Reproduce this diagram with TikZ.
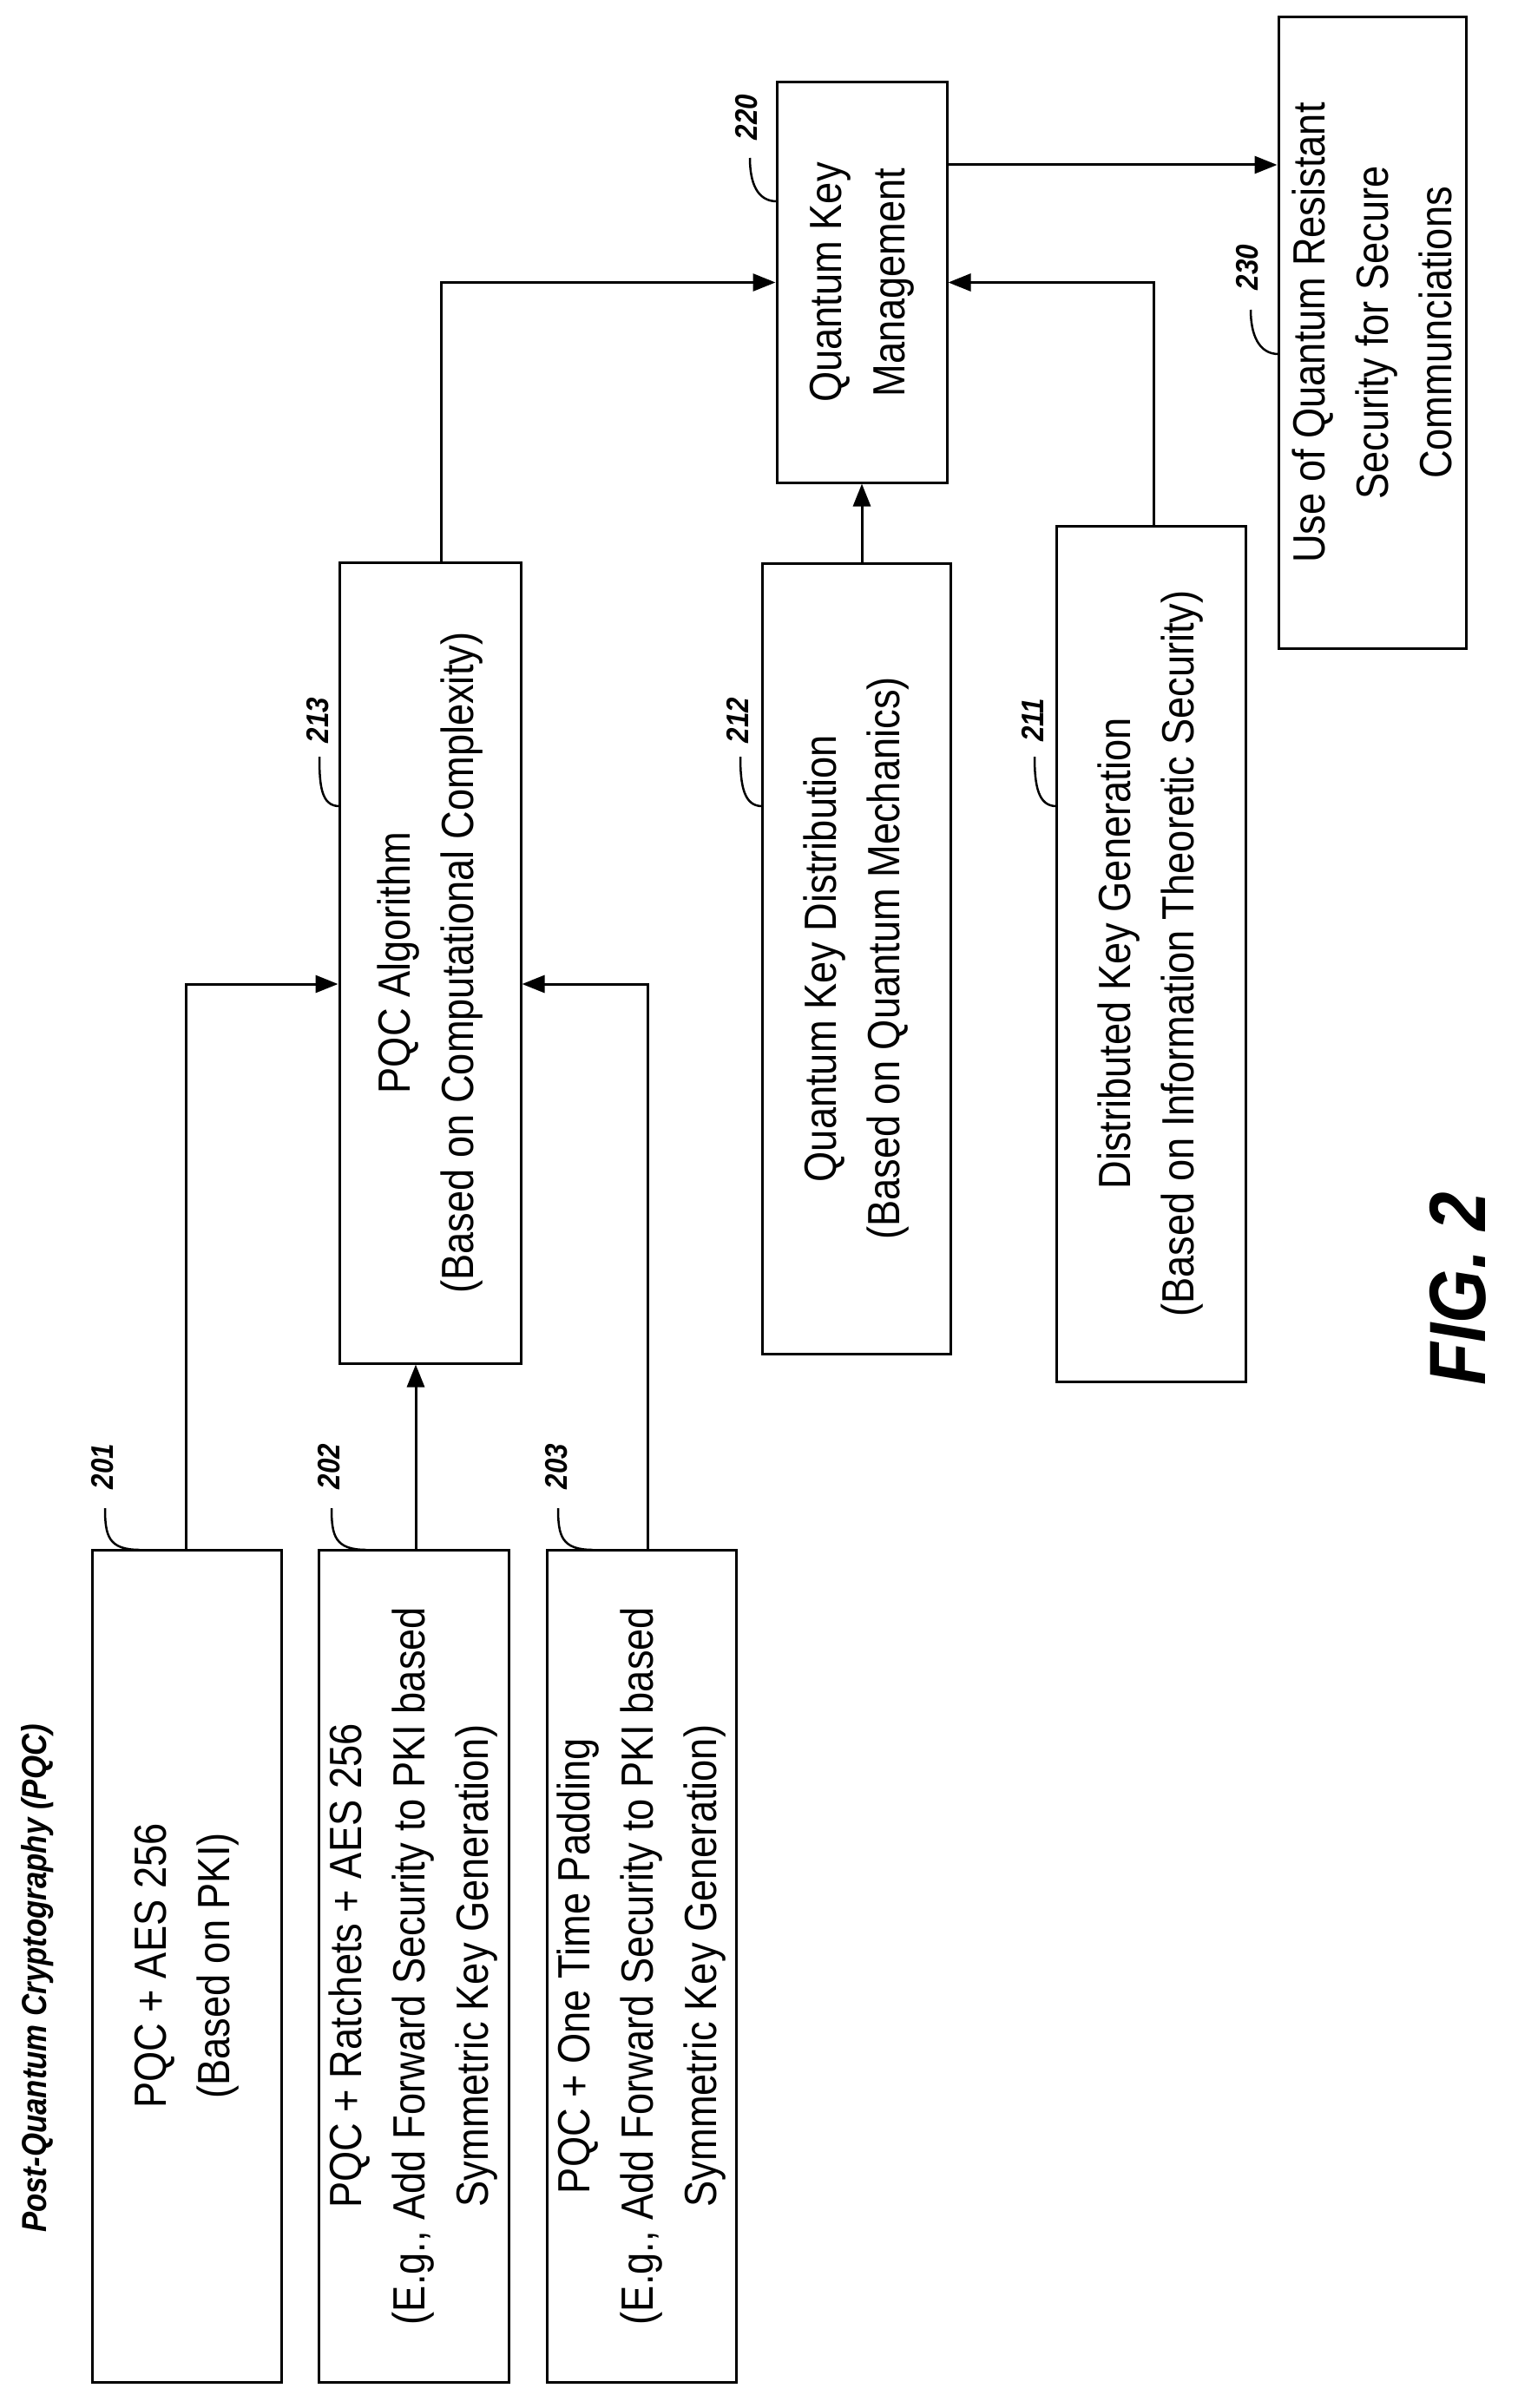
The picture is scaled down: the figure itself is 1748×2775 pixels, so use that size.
\documentclass[tikz,border=0pt]{standalone}
\usepackage{fontspec}
\setmainfont{Liberation Sans}[FakeStretch=0.87]
\usetikzlibrary{arrows.meta}
\begin{document}
\begin{tikzpicture}[x=1pt,y=-1pt,
  box/.style={draw,line width=3pt,rectangle,inner sep=0pt},
  txt/.style={rotate=90,align=center,font=\fontsize{52}{73}\selectfont,inner sep=0pt},
  lbl/.style={rotate=90,font=\fontsize{36}{40}\selectfont\bfseries\itshape,inner sep=0pt},
  arr/.style={line width=3pt,-{Triangle[length=26pt,width=20pt]}},
  ld/.style={line width=2.5pt}]
\useasboundingbox (0,0) rectangle (1748,2775);
\node[box,minimum width=218pt,minimum height=959pt] (b201) at (215,2265.5) {};
\node[box,minimum width=219pt,minimum height=959pt] (b202) at (476.5,2265.5) {};
\node[box,minimum width=218pt,minimum height=959pt] (b203) at (739,2265.5) {};
\node[box,minimum width=209pt,minimum height=923pt] (pqc) at (495.5,1109.5) {};
\node[box,minimum width=217pt,minimum height=911pt] (qkd) at (986.5,1104.5) {};
\node[box,minimum width=218pt,minimum height=986pt] (dkg) at (1326,1099) {};
\node[box,minimum width=196pt,minimum height=461pt] (qkm) at (993,325.5) {};
\node[box,minimum width=216pt,minimum height=727pt] (res) at (1581,383.5) {};

\node[txt] (t201) at (b201.center) {PQC + AES 256\\(Based on PKI)};
\node[txt] (t202) at (b202.center) {PQC + Ratchets + AES 256\\(E.g., Add Forward Security to PKI based\\Symmetric Key Generation)};
\node[txt] (t203) at (b203.center) {PQC + One Time Padding\\(E.g., Add Forward Security to PKI based\\Symmetric Key Generation)};
\node[txt] (tpqc) at (pqc.center) {PQC Algorithm\\(Based on Computational Complexity)};
\node[txt] (tqkd) at (qkd.center) {Quantum Key Distribution\\(Based on Quantum Mechanics)};
\node[txt] (tdkg) at (dkg.center) {Distributed Key Generation\\(Based on Information Theoretic Security)};
\node[txt] (tqkm) at (qkm.center) {Quantum Key\\Management};
\node[txt] (tres) at (res.center) {Use of Quantum Resistant\\Security for Secure\\Communciations};

\node[rotate=90,inner sep=0pt,font=\fontsize{40}{44}\selectfont\bfseries\itshape] (title) at (43,2280) {Post-Quantum Cryptography (PQC)};
\node[rotate=90,inner sep=0pt,font=\fontsize{92}{96}\selectfont\bfseries\itshape] (fig) at (1680,1485) {FIG. 2};

\draw[arr] (b201.north -| 214,0) |- (pqc.west |- 0,1134);
\draw[arr] (b202.north -| 479,0) -- (pqc.south -| 479,0);
\draw[arr] (b203.north -| 746,0) |- (pqc.east |- 0,1134);
\draw[arr] (pqc.north -| 508,0) |- (qkm.west);
\draw[arr] (qkd.north -| 993,0) -- (qkm.south -| 993,0);
\draw[arr] (dkg.north -| 1329,0) |- (qkm.east);
\draw[arr] (qkm.east |- 0,190) -- (res.west |- 0,190);

\node[lbl] (l201) at (118,1690) {201};
\node[lbl] (l202) at (379,1690) {202};
\node[lbl] (l203) at (641,1690) {203};
\node[lbl] (l213) at (366,830) {213};
\node[lbl] (l212) at (850,830) {212};
\node[lbl] (l211) at (1190,830) {211};
\node[lbl] (l220) at (860,135) {220};
\node[lbl] (l230) at (1437,308) {230};
\draw[ld] (161,1786) .. controls (125,1786) and (121,1770) .. (121,1738);
\draw[ld] (422,1786) .. controls (386,1786) and (382,1770) .. (382,1738);
\draw[ld] (683,1786) .. controls (647,1786) and (643,1770) .. (643,1738);
\draw[ld] (391,929) .. controls (370,929) and (368,905) .. (368,872);
\draw[ld] (878,929) .. controls (857,929) and (853,905) .. (853,872);
\draw[ld] (1217,929) .. controls (1196,929) and (1192,905) .. (1192,872);
\draw[ld] (895,232) .. controls (872,232) and (864,210) .. (864,182);
\draw[ld] (1473,408) .. controls (1450,408) and (1441,385) .. (1441,357);
\end{tikzpicture}
\end{document}
